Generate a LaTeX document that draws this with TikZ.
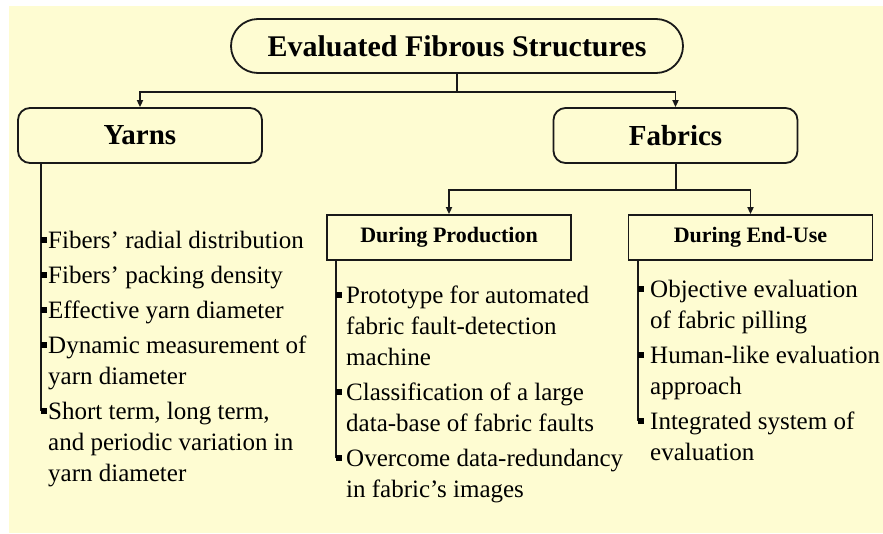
\documentclass[tikz,border=0pt]{standalone}
\usepackage{fontspec}
\setmainfont{Liberation Serif}
\usetikzlibrary{arrows.meta}
\definecolor{bgyellow}{RGB}{254,252,210}
\definecolor{linecol}{RGB}{25,25,25}
\tikzset{
  conn/.style={draw=linecol, line width=1.8pt},
  arr/.style={conn, -{Triangle[length=7pt,width=6pt]}},
  roundbox/.style={draw=linecol, line width=1.8pt, rounded corners=12pt, inner sep=0pt,
    minimum width=244pt, minimum height=55pt, font=\fontsize{29}{34}\selectfont\bfseries},
  squarebox/.style={draw=linecol, line width=1.8pt, inner sep=0pt,
    minimum width=244pt, minimum height=45pt, font=\fontsize{22}{26}\selectfont\bfseries},
  item/.style={anchor=base west, align=left, inner sep=0pt, font=\fontsize{25}{31}\selectfont},
  bullet/.style={fill=black}
}
\begin{document}
\begin{tikzpicture}[x=1pt,y=-1pt]
\useasboundingbox (0,0) rectangle (883,533);
\fill[bgyellow] (9,6) rectangle (883,533);

% boxes
\node[draw=linecol, line width=1.8pt, rounded corners=27pt, inner sep=0pt,
  minimum width=452pt, minimum height=54pt, font=\fontsize{30}{36}\selectfont\bfseries]
  (title) at (457,46) {Evaluated Fibrous Structures};
\node[roundbox] (yarns) at (140,135.5) {Yarns};
\node[roundbox] (fabrics) at (675.5,135.5) {Fabrics};
\node[squarebox] (prod) at (449,237.5) {During Production};
\node[squarebox] (enduse) at (750.5,237.5) {During End-Use};

% top connectors
\coordinate (j1) at (457,92);
\draw[conn] (title.south) -- (j1);
\draw[arr] (j1) -| (yarns.north);
\draw[arr] (j1) -| (fabrics.north);
\coordinate (j2) at (676,190);
\draw[conn] (fabrics.south -| j2) -- (j2);
\draw[arr] (j2) -| (prod.north);
\draw[arr] (j2) -| (enduse.north);

% Yarns items (anchor = baseline of last line)
\node[item] (y1) at (48,248) {Fibers’ radial distribution};
\node[item] (y2) at (48,283) {Fibers’ packing density};
\node[item] (y3) at (48,318) {Effective yarn diameter};
\node[item] (y4) at (48,384) {Dynamic measurement of\\yarn diameter};
\node[item] (y5) at (48,481) {Short term, long term,\\and periodic variation in\\yarn diameter};
\coordinate (yb) at (41,411);
\draw[conn] (yarns.south -| yb) -- (yb);
\foreach \yy in {240,275,310,345,411}{\fill[bullet] (41,\yy-3) rectangle ++(6,6);}

% Production items
\node[item] (p1) at (346,365) {Prototype for automated\\fabric fault-detection\\machine};
\node[item] (p2) at (346,431) {Classification of a large\\data-base of fabric faults};
\node[item] (p3) at (346,497) {Overcome data-redundancy\\in fabric’s images};
\coordinate (pb) at (336,458);
\draw[conn] (prod.south -| pb) -- (pb);
\foreach \yy in {295,392,458}{\fill[bullet] (336,\yy-3) rectangle ++(6,6);}

% End-use items
\node[item] (e1) at (650,328) {Objective evaluation\\of fabric pilling};
\node[item] (e2) at (650,394) {Human-like evaluation\\approach};
\node[item] (e3) at (650,460) {Integrated system of\\evaluation};
\coordinate (eb) at (638,421);
\draw[conn] (enduse.south -| eb) -- (eb);
\foreach \yy in {289,355,421}{\fill[bullet] (638,\yy-3) rectangle ++(6,6);}
\end{tikzpicture}
\end{document}
